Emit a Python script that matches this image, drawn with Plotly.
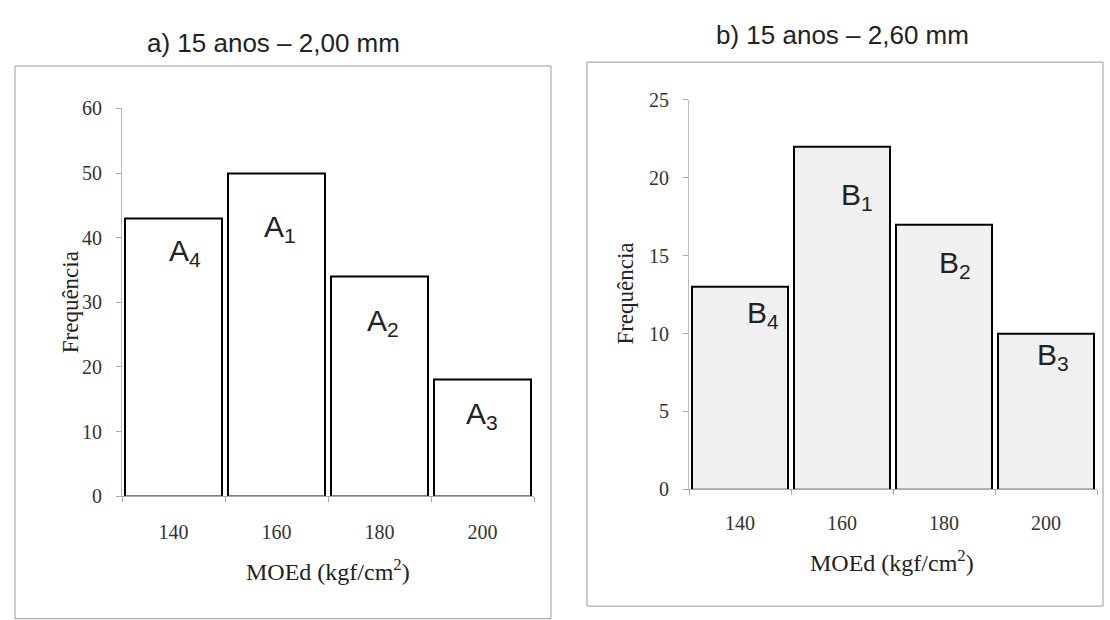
import plotly.graph_objects as go

# Data
categories = [140, 160, 180, 200]
freq_a = [43, 50, 34, 18]
freq_b = [13, 22, 17, 10]
labels_a = ["A<sub>4</sub>", "A<sub>1</sub>", "A<sub>2</sub>", "A<sub>3</sub>"]
labels_b = ["B<sub>4</sub>", "B<sub>1</sub>", "B<sub>2</sub>", "B<sub>3</sub>"]
title_a = "a) 15 anos – 2,00 mm"
title_b = "b) 15 anos – 2,60 mm"
x_title = "MOEd (kgf/cm<sup>2</sup>)"
y_title = "Frequência"

W, H = 1110, 620
def px(x):
    return x / W
def py(y):
    return 1 - y / H

fig = go.Figure()
fig.add_trace(go.Bar(x=categories, y=freq_a, width=19, marker=dict(color="white", line=dict(color="black", width=2)),
                     xaxis="x", yaxis="y", showlegend=False))
fig.add_trace(go.Bar(x=categories, y=freq_b, width=19, marker=dict(color="#f0f0f0", line=dict(color="black", width=2)),
                     xaxis="x2", yaxis="y2", showlegend=False))

tickfont = dict(family="Liberation Serif", size=20, color="#333")
def xax(dom, anchor, standoff):
    return dict(domain=dom, anchor=anchor, range=[130, 210], tickvals=categories, ticks="", showline=True,
                linecolor="#aaa", linewidth=1, tickfont=tickfont, showgrid=False, zeroline=False,
                ticklabelstandoff=standoff,
                minor=dict(tickvals=[130, 150, 170, 190, 210], ticks="outside", ticklen=5, tickcolor="#aaa"))
def yax(dom, anchor, rng, tv):
    return dict(domain=dom, anchor=anchor, range=rng, tickvals=tv, showline=True, linecolor="#bbb", linewidth=1,
                ticks="outside", ticklen=5, tickcolor="#aaa", tickfont=tickfont, showgrid=False, zeroline=False,
                ticklabelstandoff=10)

fig.update_layout(
    width=W, height=H, margin=dict(l=0, r=0, t=0, b=0),
    paper_bgcolor="white", plot_bgcolor="white", bargap=0,
    xaxis=xax([px(122), px(534)], "y", 18),
    yaxis=yax([py(503), py(101)], "x", [0, 60], [0, 10, 20, 30, 40, 50, 60]),
    xaxis2=xax([px(689), px(1097)], "y2", 16),
    yaxis2=yax([py(496), py(92)], "x2", [0, 25], [0, 5, 10, 15, 20, 25]),
)

# Frames
fig.add_shape(type="rect", xref="paper", yref="paper", x0=px(15), x1=px(551), y0=py(630), y1=py(57),
              line=dict(color="#999", width=1))
fig.add_shape(type="rect", xref="paper", yref="paper", x0=px(587), x1=px(1103), y0=py(617), y1=py(53),
              line=dict(color="#999", width=1))

ann = []
def pann(text, x, y, size, family, angle=0):
    ann.append(dict(text=text, x=px(x), y=py(y), xref="paper", yref="paper", showarrow=False,
                    xanchor="center", yanchor="middle", textangle=angle,
                    font=dict(family=family, size=size, color="#222")))

# Titles
pann(title_a, 273, 33, 26, "Liberation Sans")
pann(title_b, 842, 25, 26, "Liberation Sans")
# Axis titles
pann(y_title, 70, 302, 23, "Liberation Serif", -90)
pann(y_title, 626, 293, 23, "Liberation Serif", -90)
pann(x_title, 328, 580, 24, "Liberation Serif")
pann(x_title, 892, 570, 24, "Liberation Serif")

# Bar labels (positions in pixels of the reference)
pos_a = [(185, 250), (280, 225), (383, 323), (482, 419)]
pos_b = [(763, 315), (857, 192), (955, 263), (1053, 358)]
for t, (x, y) in zip(labels_a, pos_a):
    pann(t, x, y, 30, "Liberation Sans")
for t, (x, y) in zip(labels_b, pos_b):
    pann(t, x, y, 30, "Liberation Sans")

fig.update_layout(annotations=ann)
fig.write_html("out.html")
